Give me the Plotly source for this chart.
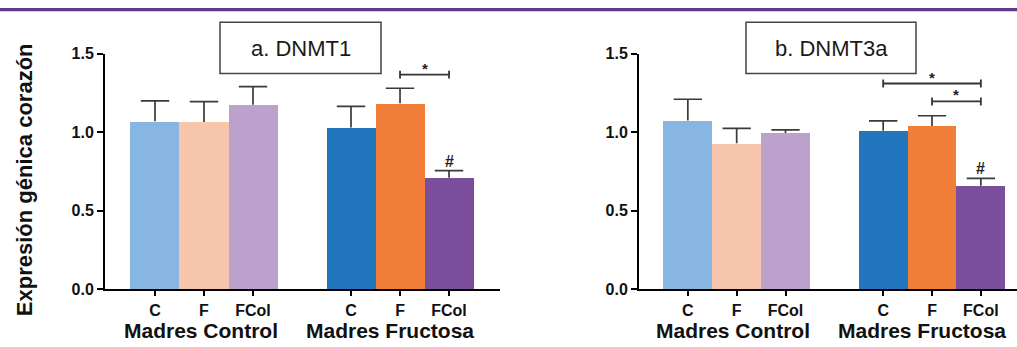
import plotly.graph_objects as go

W, H = 1017, 347

# ---------------- data ----------------
categories = ["C", "F", "FCol", "C", "F", "FCol"]
groups = ["Madres Control", "Madres Fructosa"]
positions = [0, 1, 2, 4, 5, 6]

dnmt1_values = [1.07, 1.065, 1.175, 1.03, 1.185, 0.71]
dnmt1_errors = [0.13, 0.13, 0.115, 0.135, 0.095, 0.046]

dnmt3a_values = [1.075, 0.93, 0.995, 1.01, 1.04, 0.66]
dnmt3a_errors = [0.135, 0.095, 0.02, 0.063, 0.065, 0.047]

bar_colors = ["#86B6E1", "#F8C6AC", "#BBA1CB", "#2176BD", "#F27F39", "#7B4F9B"]

# significance brackets: (start index, end index, height)
dnmt1_brackets = [(4, 5, 1.367)]
dnmt3a_brackets = [(3, 5, 1.31), (4, 5, 1.196)]
# '#' markers over bars (index)
dnmt1_hash = [5]
dnmt3a_hash = [5]

y_ticks = [0, 0.5, 1.0, 1.5]
y_ticktext = ["0.0", "0.5", "1.0", "1.5"]

titles = ["a. DNMT1", "b. DNMT3a"]
y_title = "Expresión génica corazón"

FONT = "Liberation Sans, Arial, sans-serif"
CAP = 0.29  # half cap width in bar units

fig = go.Figure()

panels = [
    ("x", "y", dnmt1_values, dnmt1_errors, dnmt1_brackets, dnmt1_hash),
    ("x2", "y2", dnmt3a_values, dnmt3a_errors, dnmt3a_brackets, dnmt3a_hash),
]

for xa, ya, vals, errs, brackets, hashes in panels:
    fig.add_trace(go.Bar(
        x=positions, y=vals, width=1.0,
        marker=dict(color=bar_colors, line=dict(width=0)),
        xaxis=xa, yaxis=ya, showlegend=False, hoverinfo="skip",
    ))
    # one-sided (upper) error bars with cap only at the top
    ex, ey = [], []
    for p, v, e in zip(positions, vals, errs):
        ex += [p, p, None, p - CAP, p + CAP, None]
        ey += [v, v + e, None, v + e, v + e, None]
    fig.add_trace(go.Scatter(
        x=ex, y=ey, mode="lines", line=dict(color="#3a3a3a", width=1.7),
        xaxis=xa, yaxis=ya, showlegend=False, hoverinfo="skip",
    ))
    # brackets
    for i0, i1, h in brackets:
        x0, x1 = positions[i0], positions[i1]
        fig.add_shape(type="line", xref=xa, yref=ya, x0=x0, x1=x1, y0=h, y1=h,
                      line=dict(color="#333", width=1.8))
        for xe in (x0, x1):
            fig.add_shape(type="line", xref=xa, yref=ya, x0=xe, x1=xe,
                          y0=h - 0.025, y1=h + 0.025,
                          line=dict(color="#333", width=1.8))
        fig.add_annotation(x=(x0 + x1) / 2, y=h, xref=xa, yref=ya, text="*",
                           showarrow=False, yanchor="bottom", yshift=-4,
                           font=dict(family=FONT, size=15, color="#222", weight="bold"))
    for i in hashes:
        fig.add_annotation(x=positions[i], y=vals[i] + errs[i], xref=xa, yref=ya,
                           text="#", showarrow=False, yanchor="bottom", yshift=-1,
                           font=dict(family=FONT, size=16, color="#222", weight="bold"))
    # group labels
    for gx, gname in zip([0.93, 4.8], groups):
        fig.add_annotation(x=gx, y=1 - 339 / H, xref=xa, yref="paper", text=gname,
                           showarrow=False, yanchor="middle", borderpad=0,
                           font=dict(family=FONT, size=21, color="#111", weight="bold"))

axis_common_x = dict(
    showline=True, linecolor="black", linewidth=2, showgrid=False, zeroline=False,
    tickmode="array", tickvals=positions, ticktext=categories,
    ticks="outside", ticklen=5, tickwidth=1.8, tickcolor="black",
    tickfont=dict(family=FONT, size=16, color="#111", weight="bold"),
    fixedrange=True,
)
axis_common_y = dict(
    showline=True, linecolor="black", linewidth=2, showgrid=False, zeroline=False,
    range=[0, 1.5], tickmode="array", tickvals=y_ticks, ticktext=y_ticktext,
    ticks="outside", ticklen=6, tickwidth=2, tickcolor="black",
    tickfont=dict(family=FONT, size=16, color="#111", weight="bold"),
    fixedrange=True,
)

y_dom = [1 - 296 / H, 1 - 48 / H]

fig.update_layout(
    width=W, height=H,
    margin=dict(l=0, r=0, t=0, b=0),
    paper_bgcolor="white", plot_bgcolor="white",
    xaxis=dict(domain=[105 / W, 500 / W], range=[-1.02, 7.04], anchor="y", **axis_common_x),
    yaxis=dict(domain=y_dom, anchor="x", **axis_common_y),
    xaxis2=dict(domain=[639 / W, 1.0], range=[-1.0, 6.74], anchor="y2", **axis_common_x),
    yaxis2=dict(domain=y_dom, anchor="x2", **axis_common_y),
    bargap=0,
)

# top purple stripe
fig.add_shape(type="rect", xref="paper", yref="paper", x0=0, x1=1,
              y0=1 - 3.5 / H, y1=1.0, fillcolor="#5E3A86", line=dict(width=0))

# title boxes
for (bx0, bx1), t in zip([(220, 381), (746, 916)], titles):
    fig.add_shape(type="rect", xref="paper", yref="paper",
                  x0=bx0 / W, x1=bx1 / W, y0=1 - 69 / H, y1=1 - 15 / H,
                  line=dict(color="#444", width=1.5), fillcolor="rgba(0,0,0,0)")
    fig.add_annotation(x=(bx0 + bx1) / 2 / W, y=1 - 43 / H, xref="paper", yref="paper",
                       text=t, showarrow=False, xanchor="center", yanchor="middle",
                       font=dict(family=FONT, size=22, color="#1a1a1a"))

# y-axis title
fig.add_annotation(x=24 / W, y=1 - 181 / H, xref="paper", yref="paper",
                   text=y_title, textangle=-90, showarrow=False,
                   xanchor="center", yanchor="middle",
                   font=dict(family=FONT, size=22, color="#111", weight="bold"))

fig.write_html(
    "out.html",
    config={"displayModeBar": False},
    post_script="document.body.style.margin='0';document.body.style.overflow='hidden';",
)
